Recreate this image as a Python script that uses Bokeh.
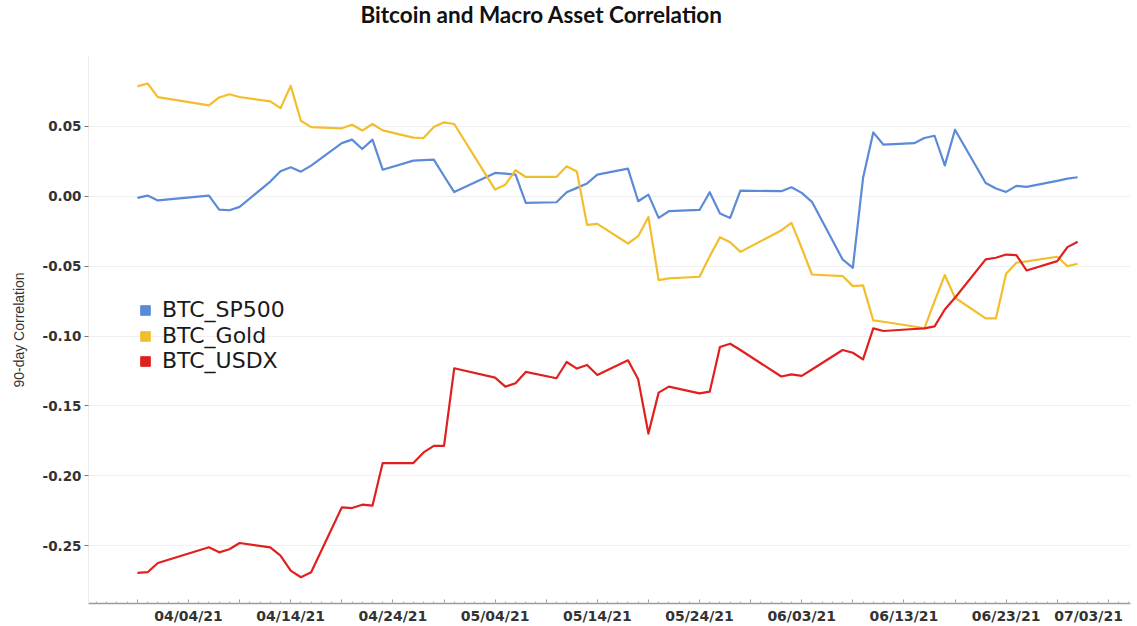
import pandas as pd
from bokeh.plotting import figure
from bokeh.models import (Range1d, FixedTicker, NumeralTickFormatter, DatetimeTickFormatter,
                          Legend, LegendItem, ColumnDataSource)
from bokeh.embed import file_html
from bokeh.resources import INLINE

# ---------------- data ----------------
dates = [
    "2021-03-30", "2021-03-31", "2021-04-01",
    "2021-04-06", "2021-04-07", "2021-04-08", "2021-04-09",
    "2021-04-12", "2021-04-13", "2021-04-14", "2021-04-15", "2021-04-16",
    "2021-04-19", "2021-04-20", "2021-04-21", "2021-04-22", "2021-04-23",
    "2021-04-26", "2021-04-27", "2021-04-28", "2021-04-29", "2021-04-30",
    "2021-05-04", "2021-05-05", "2021-05-06", "2021-05-07",
    "2021-05-10", "2021-05-11", "2021-05-12", "2021-05-13", "2021-05-14",
    "2021-05-17", "2021-05-18", "2021-05-19", "2021-05-20", "2021-05-21",
    "2021-05-24", "2021-05-25", "2021-05-26", "2021-05-27", "2021-05-28",
    "2021-06-01", "2021-06-02", "2021-06-03", "2021-06-04",
    "2021-06-07", "2021-06-08", "2021-06-09", "2021-06-10", "2021-06-11",
    "2021-06-14", "2021-06-15", "2021-06-16", "2021-06-17", "2021-06-18",
    "2021-06-21", "2021-06-22", "2021-06-23", "2021-06-24", "2021-06-25",
    "2021-06-28", "2021-06-29", "2021-06-30",
]

btc_sp500 = [
    -0.0012, 0.0005, -0.0030,
    0.0005, -0.0095, -0.0100, -0.0076,
    0.0105, 0.0179, 0.0207, 0.0176, 0.0219,
    0.0380, 0.0405, 0.0338, 0.0405, 0.0190,
    0.0255, 0.0258, 0.0262, 0.0145, 0.0030,
    0.0167, 0.0162, 0.0155, -0.0048,
    -0.0043, 0.0029, 0.0060, 0.0092, 0.0155,
    0.0198, -0.0036, 0.0012, -0.0155, -0.0107,
    -0.0098, 0.0029, -0.0124, -0.0155, 0.0040,
    0.0036, 0.0064, 0.0024, -0.0040,
    -0.0452, -0.0512, 0.0130, 0.0457, 0.0369,
    0.0380, 0.0417, 0.0433, 0.0221, 0.0476,
    0.0095, 0.0055, 0.0031, 0.0074, 0.0067,
    0.0110, 0.0126, 0.0136,
]

btc_gold = [
    0.0786, 0.0807, 0.0709,
    0.0650, 0.0707, 0.0730, 0.0710,
    0.0679, 0.0630, 0.0790, 0.0540, 0.0495,
    0.0486, 0.0512, 0.0470, 0.0517, 0.0471,
    0.0420, 0.0417, 0.0495, 0.0529, 0.0517,
    0.0048, 0.0083, 0.0186, 0.0138,
    0.0138, 0.0214, 0.0177, -0.0205, -0.0198,
    -0.0338, -0.0286, -0.0148, -0.0600, -0.0588,
    -0.0576, -0.0430, -0.0293, -0.0329, -0.0398,
    -0.0245, -0.0190, -0.0370, -0.0560,
    -0.0571, -0.0643, -0.0638, -0.0888, -0.0898,
    -0.0932, -0.0945, -0.0750, -0.0564, -0.0726,
    -0.0874, -0.0874, -0.0555, -0.0476, -0.0466,
    -0.0433, -0.0500, -0.0483,
]

btc_usdx = [
    -0.2695, -0.2690, -0.2624,
    -0.2512, -0.2548, -0.2526, -0.2481,
    -0.2512, -0.2571, -0.2679, -0.2726, -0.2690,
    -0.2226, -0.2231, -0.2207, -0.2214, -0.1909,
    -0.1909, -0.1833, -0.1786, -0.1786, -0.1231,
    -0.1298, -0.1362, -0.1338, -0.1257,
    -0.1302, -0.1186, -0.1233, -0.1207, -0.1279,
    -0.1174, -0.1310, -0.1698, -0.1405, -0.1362,
    -0.1410, -0.1398, -0.1079, -0.1055, -0.1100,
    -0.1290, -0.1275, -0.1285, -0.1240,
    -0.1100, -0.1120, -0.1167, -0.0945, -0.0964,
    -0.0950, -0.0945, -0.0931, -0.0810, -0.0726,
    -0.0452, -0.0440, -0.0417, -0.0421, -0.0531,
    -0.0464, -0.0364, -0.0326,
]

series_keys = ["sp", "gold", "usdx"]
series_names = ["BTC_SP500", "BTC_Gold", "BTC_USDX"]
series_colors = ["#5b8bd7", "#f3be2c", "#e0201e"]

x_tick_labels = ["04/04/21", "04/14/21", "04/24/21", "05/04/21", "05/14/21",
                 "05/24/21", "06/03/21", "06/13/21", "06/23/21", "07/03/21"]
y_ticks = [-0.25, -0.20, -0.15, -0.10, -0.05, 0.00, 0.05]

title_text = "Bitcoin and Macro Asset Correlation"
y_label = "90-day Correlation"

# ---------------- build ----------------
x = pd.to_datetime(dates)
src = ColumnDataSource(dict(x=x, sp=btc_sp500, gold=btc_gold, usdx=btc_usdx))

first_label = pd.to_datetime(x_tick_labels[0], format="%m/%d/%y")
x_start = first_label - pd.Timedelta(days=9.785)
x_end = first_label + pd.Timedelta(days=92.17)

p = figure(width=1137, height=626, x_axis_type="datetime",
           x_range=Range1d(x_start.to_pydatetime(), x_end.to_pydatetime()),
           y_range=Range1d(-0.2914, 0.1),
           output_backend="svg", toolbar_location=None,
           min_border_left=88, min_border_right=7, min_border_top=55, min_border_bottom=23)

# title: an empty second line keeps the first line near the top edge
p.title.text = title_text + "\n"
p.title.text_font = "Lato"
p.title.text_font_size = "22.5px"
p.title.text_font_style = "bold"
p.title.text_color = "#111111"
p.title.text_line_height = 1.0
p.title.align = "left"
p.title.vertical_align = "top"
p.title.offset = 272
p.title.standoff = 0

p.outline_line_color = None
p.background_fill_color = "white"
p.border_fill_color = "white"

for key, col in zip(series_keys, series_colors):
    p.line("x", key, source=src, line_color=col, line_width=2.2, line_join="round")

# ticks
def ms(ts):
    return ts.value // 10**6

major_ticks, overrides = [], {}
for i, lab in enumerate(x_tick_labels):
    t = pd.to_datetime(lab, format="%m/%d/%y")
    major_ticks.append(ms(t))
    txt = lab if i < len(x_tick_labels) - 1 else lab + "\u00a0" * 3
    overrides[ms(t)] = txt
    for off in (-5, 5):
        t2 = t + pd.Timedelta(days=off)
        if ms(t2) not in overrides:
            major_ticks.append(ms(t2))
            overrides[ms(t2)] = ""
extra = first_label - pd.Timedelta(days=10)
major_ticks.append(ms(extra)); overrides[ms(extra)] = ""
minor = [ms(first_label + pd.Timedelta(days=d)) for d in range(-10, 93)]

p.xaxis.ticker = FixedTicker(ticks=sorted(set(major_ticks)), minor_ticks=minor)
p.xaxis.formatter = DatetimeTickFormatter(days="%m/%d/%y")
p.xaxis.major_label_overrides = overrides
p.xaxis.axis_line_color = "#9a9a9a"
p.xaxis.axis_line_width = 1.5
p.xaxis.major_tick_in = 4
p.xaxis.major_tick_out = 0
p.xaxis.minor_tick_in = 2
p.xaxis.minor_tick_out = 0
p.xaxis.major_tick_line_color = "#9a9a9a"
p.xaxis.minor_tick_line_color = "#b0b0b0"
p.xaxis.major_label_standoff = 4
p.xaxis.major_label_text_font = "DejaVu Sans"
p.xaxis.major_label_text_font_style = "bold"
p.xaxis.major_label_text_font_size = "14px"
p.xaxis.major_label_text_color = "#333333"

p.yaxis.ticker = FixedTicker(ticks=y_ticks)
p.yaxis.formatter = NumeralTickFormatter(format="0.00")
p.yaxis.axis_line_color = "#ececec"
p.yaxis.major_tick_out = 4
p.yaxis.major_tick_in = 0
p.yaxis.minor_tick_line_color = None
p.yaxis.major_tick_line_color = "#777777"
p.yaxis.major_label_standoff = 3
p.yaxis.major_label_text_font = "DejaVu Sans"
p.yaxis.major_label_text_font_style = "bold"
p.yaxis.major_label_text_font_size = "13.5px"
p.yaxis.major_label_text_color = "#333333"
p.yaxis.axis_label = y_label
p.yaxis.axis_label_text_font = "Liberation Sans"
p.yaxis.axis_label_text_font_style = "normal"
p.yaxis.axis_label_text_font_size = "14px"
p.yaxis.axis_label_text_color = "#333333"
p.yaxis.axis_label_standoff = 13

p.xgrid.grid_line_color = None
p.ygrid.grid_line_color = "#efefef"
p.ygrid.grid_line_width = 1

# legend: one small legend per row so the rows sit close together
legend_rows_from_bottom = [281, 255, 230]
for key, name, col, vy in zip(series_keys, series_names, series_colors, legend_rows_from_bottom):
    r = p.scatter("x", key, source=src, marker="square", size=0, color=col)
    lg = Legend(items=[LegendItem(label=name, renderers=[r])], location=(45, vy),
                glyph_width=24, glyph_height=24, label_height=22, label_standoff=5,
                spacing=0, padding=0, margin=0,
                label_text_font="DejaVu Sans", label_text_font_size="22px",
                label_text_color="#1a1a1a",
                background_fill_alpha=0, border_line_alpha=0)
    p.add_layout(lg)

open("out.html", "w").write(file_html(p, INLINE))
